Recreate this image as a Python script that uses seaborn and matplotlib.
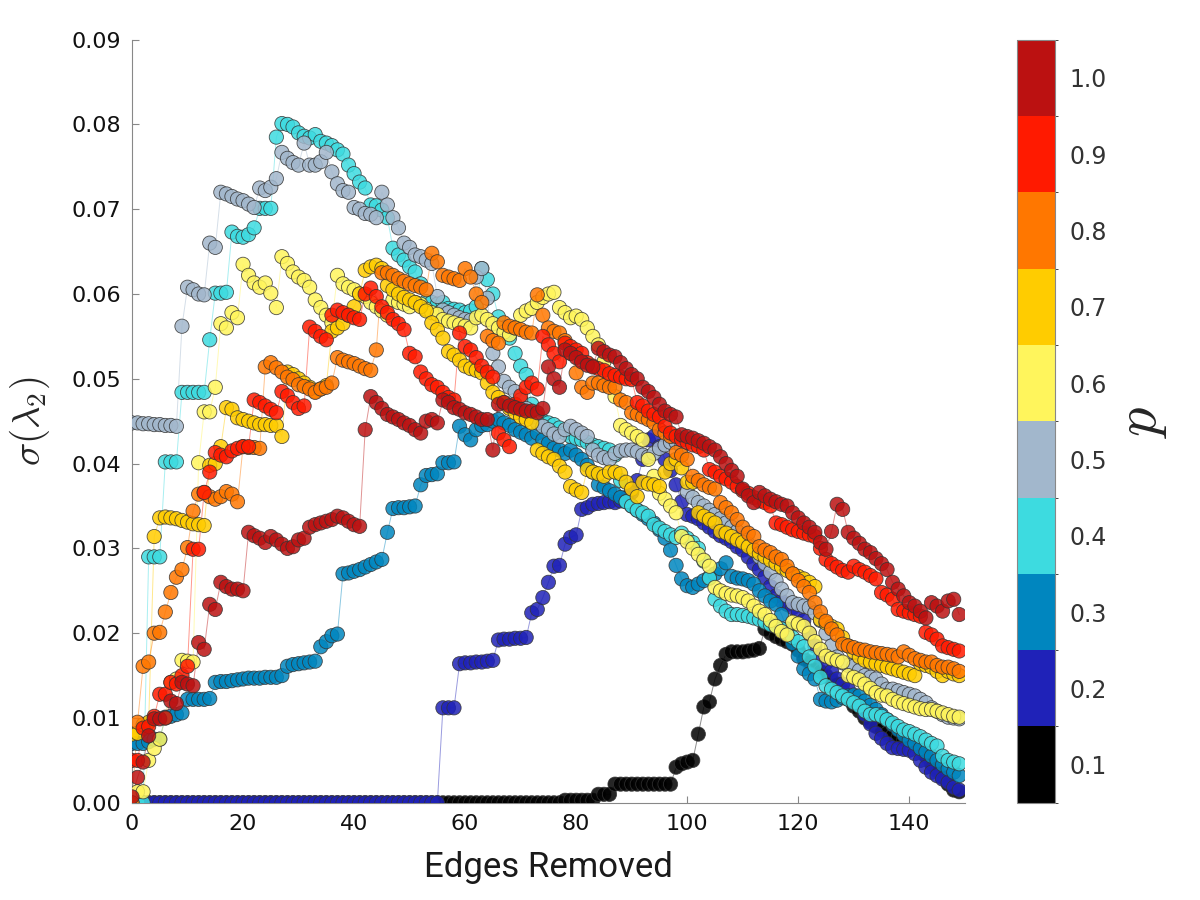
import numpy as np
import pandas as pd
import matplotlib
matplotlib.use("Agg")
import matplotlib.pyplot as plt
import seaborn as sns
from matplotlib.colors import ListedColormap, BoundaryNorm
from matplotlib.cm import ScalarMappable

# === Data: sigma(lambda_2) per edges removed, values in units of 1e-4 ===
edges = list(range(150))
p_values = [0.1, 0.2, 0.3, 0.4, 0.5, 0.6, 0.7, 0.8, 0.9, 1.0]
p_labels = ["0.1", "0.2", "0.3", "0.4", "0.5", "0.6", "0.7", "0.8", "0.9", "1.0"]
p_colors = ["#000000", "#1f22b8", "#0086bf", "#3ddbe0", "#a2b7cc",
            "#fff55c", "#ffcc00", "#ff7700", "#ff1a00", "#bb1111"]

sig_p01 = [
    0, 0, 0, 0, 0, 0, 0, 0, 0, 0,
    0, 0, 0, 0, 0, 0, 0, 0, 0, 0,
    0, 0, 0, 0, 0, 0, 0, 0, 0, 0,
    0, 0, 0, 0, 0, 0, 0, 0, 0, 0,
    0, 0, 0, 0, 0, 0, 0, 0, 0, 0,
    0, 0, 0, 0, 0, 0, 0, 0, 0, 0,
    0, 0, 0, 0, 0, 0, 0, 0, 0, 0,
    0, 0, 0, 0, 0, 0, 0, 0, 3, 3,
    3, 3, 3, 3, 10, 10, 10, 22, 22, 22,
    22, 22, 22, 22, 22, 22, 22, 22, 42, 46,
    48, 50, 81, 113, 119, 146, 162, 175, 178, 178,
    178, 179, 180, 182, 205, 200, 196, 193, 190, 187,
    180, 170, 166, 160, 155, 150, 145, 140, 132, 122,
    114, 108, 100, 95, 90, 86, 82, 79, 77, 75,
    73, 72, 64, 55, 46, 38, 30, 22, 15, 13,
]
sig_p02 = [
    0, 0, 0, 0, 0, 0, 0, 0, 0, 0,
    0, 0, 0, 0, 0, 0, 0, 0, 0, 0,
    0, 0, 0, 0, 0, 0, 0, 0, 0, 0,
    0, 0, 0, 0, 0, 0, 0, 0, 0, 0,
    0, 0, 0, 0, 0, 0, 0, 0, 0, 0,
    0, 0, 0, 0, 0, 0, 112, 112, 112, 164,
    165, 165, 166, 166, 167, 168, 192, 193, 193, 194,
    194, 195, 224, 228, 242, 260, 279, 280, 305, 313,
    316, 346, 348, 352, 353, 354, 355, 354, 356, 360,
    366, 380, 405, 428, 432, 420, 405, 392, 375, 355,
    340, 338, 335, 330, 325, 320, 315, 312, 308, 302,
    298, 290, 282, 275, 266, 255, 244, 238, 234, 230,
    226, 215, 200, 185, 172, 165, 155, 146, 140, 134,
    125, 115, 104, 93, 82, 76, 70, 65, 64, 63,
    62, 58, 50, 42, 36, 32, 28, 24, 18, 15,
]
sig_p03 = [
    70, 70, 70, 72, 75, 75, 101, 102, 104, 106,
    122, 122, 122, 122, 123, 142, 143, 143, 144, 145,
    146, 147, 147, 147, 148, 148, 148, 150, 161, 163,
    164, 165, 166, 167, 184, 190, 197, 199, 270, 271,
    273, 275, 278, 281, 284, 287, 319, 347, 348, 348,
    349, 350, 375, 386, 387, 388, 401, 401, 402, 444,
    434, 428, 440, 445, 446, 450, 452, 448, 445, 440,
    437, 434, 430, 436, 428, 424, 418, 416, 412, 416,
    410, 405, 398, 390, 375, 372, 368, 364, 360, 355,
    350, 345, 340, 335, 330, 322, 312, 298, 280, 264,
    256, 254, 258, 262, 266, 270, 276, 283, 267, 265,
    264, 262, 258, 250, 244, 238, 234, 222, 205, 188,
    173, 158, 152, 146, 122, 120, 119, 121, 124, 126,
    127, 126, 120, 115, 110, 104, 98, 92, 86, 80,
    74, 70, 64, 60, 55, 50, 45, 40, 36, 32,
]
sig_p04 = [
    0, 0, 0, 290, 290, 290, 402, 402, 402, 484,
    484, 484, 484, 484, 546, 601, 601, 602, 673, 668,
    667, 670, 678, 701, 701, 701, 785, 801, 800, 797,
    790, 786, 784, 788, 780, 778, 775, 770, 765, 752,
    742, 732, 725, 705, 704, 699, 690, 654, 646, 640,
    632, 626, 612, 591, 590, 588, 590, 583, 582, 581,
    578, 580, 585, 630, 617, 600, 573, 560, 548, 530,
    515, 505, 470, 455, 450, 448, 446, 442, 436, 432,
    430, 428, 425, 422, 420, 418, 416, 410, 380, 355,
    350, 345, 342, 338, 328, 324, 320, 316, 313, 318,
    312, 307, 300, 285, 265, 240, 232, 226, 222, 222,
    221, 220, 218, 216, 213, 210, 208, 205, 200, 195,
    190, 184, 172, 161, 148, 138, 134, 130, 126, 122,
    118, 114, 108, 104, 104, 102, 98, 94, 90, 86,
    84, 81, 78, 74, 70, 67, 55, 50, 48, 46,
]
sig_p05 = [
    448, 448, 447, 447, 446, 446, 445, 445, 444, 562,
    608, 605, 600, 599, 660, 655, 720, 718, 715, 712,
    710, 706, 702, 725, 722, 726, 736, 767, 760, 755,
    752, 778, 752, 752, 756, 767, 744, 730, 722, 720,
    702, 700, 695, 694, 690, 720, 705, 690, 678, 660,
    655, 646, 644, 640, 636, 597, 581, 578, 575, 572,
    570, 569, 620, 630, 595, 530, 514, 497, 490, 485,
    475, 465, 455, 448, 444, 440, 435, 432, 440, 444,
    440, 436, 432, 416, 410, 407, 405, 412, 415, 416,
    416, 414, 410, 408, 412, 418, 422, 425, 425, 420,
    367, 360, 354, 350, 345, 340, 335, 330, 325, 320,
    312, 305, 298, 290, 282, 272, 262, 252, 244, 236,
    234, 232, 230, 224, 215, 200, 185, 172, 165, 162,
    161, 156, 150, 148, 146, 140, 134, 134, 132, 130,
    128, 126, 122, 118, 112, 108, 104, 101, 100, 99,
]
sig_p06 = [
    0, 13, 13, 50, 64, 75, 100, 142, 146, 168,
    167, 166, 401, 461, 461, 490, 565, 560, 578, 572,
    635, 622, 613, 608, 613, 601, 584, 644, 636, 626,
    620, 616, 608, 593, 584, 575, 566, 622, 612, 608,
    605, 600, 597, 590, 585, 580, 575, 593, 590, 588,
    585, 590, 588, 582, 578, 576, 570, 568, 566, 564,
    562, 560, 572, 575, 570, 565, 560, 555, 552, 560,
    575, 580, 583, 590, 596, 600, 602, 584, 578, 572,
    574, 570, 560, 550, 540, 520, 500, 479, 445, 440,
    436, 432, 428, 405, 385, 365, 358, 350, 342, 314,
    308, 300, 293, 286, 279, 254, 250, 247, 245, 244,
    242, 238, 232, 226, 222, 215, 208, 202, 198, 213,
    211, 208, 200, 190, 181, 173, 170, 168, 166, 150,
    148, 145, 140, 135, 130, 127, 126, 122, 119, 117,
    115, 113, 111, 110, 110, 108, 106, 104, 102, 101,
]
sig_p07 = [
    81, 82, 92, 95, 314, 336, 337, 336, 335, 333,
    331, 329, 328, 327, 398, 400, 420, 466, 464, 454,
    452, 450, 448, 446, 446, 445, 445, 432, 508, 505,
    500, 495, 490, 485, 488, 492, 556, 560, 565, 575,
    585, 600, 628, 632, 634, 630, 610, 605, 600, 596,
    593, 590, 585, 580, 566, 558, 548, 532, 528, 522,
    515, 512, 510, 507, 495, 484, 478, 472, 465, 460,
    455, 452, 448, 416, 412, 408, 405, 397, 390, 373,
    369, 366, 393, 390, 388, 385, 390, 390, 388, 378,
    370, 361, 378, 376, 375, 373, 390, 400, 405, 395,
    378, 378, 342, 338, 334, 330, 320, 318, 314, 310,
    307, 302, 298, 294, 290, 286, 282, 278, 274, 270,
    267, 264, 260, 255, 216, 212, 208, 205, 195, 185,
    178, 172, 168, 166, 164, 162, 160, 158, 156, 154,
    152, 150, 164, 162, 160, 155, 150, 155, 152, 150,
]
sig_p08 = [
    0, 95, 161, 166, 200, 201, 225, 248, 266, 275,
    301, 344, 364, 366, 361, 358, 361, 367, 364, 355,
    420, 419, 419, 418, 514, 519, 513, 508, 502, 499,
    493, 491, 488, 484, 488, 490, 495, 525, 522, 520,
    518, 515, 512, 510, 534, 625, 625, 622, 618, 615,
    612, 610, 608, 605, 648, 638, 622, 620, 618, 616,
    630, 620, 600, 590, 550, 545, 542, 566, 562, 560,
    558, 555, 554, 599, 575, 560, 556, 554, 545, 530,
    507, 490, 484, 495, 495, 492, 490, 490, 475, 472,
    460, 458, 455, 452, 448, 440, 436, 432, 413, 410,
    405, 385, 380, 375, 372, 370, 354, 348, 342, 334,
    325, 318, 314, 302, 298, 295, 290, 287, 279, 270,
    262, 255, 248, 236, 225, 214, 205, 198, 187, 185,
    183, 181, 180, 178, 177, 176, 175, 174, 172, 178,
    174, 170, 168, 166, 166, 162, 160, 160, 158, 155,
]
sig_p09 = [
    50, 50, 88, 90, 102, 128, 128, 142, 140, 150,
    161, 299, 299, 366, 390, 413, 410, 408, 415, 418,
    420, 420, 475, 472, 468, 464, 460, 485, 480, 472,
    465, 468, 561, 556, 550, 546, 575, 581, 578, 575,
    572, 570, 600, 607, 597, 585, 578, 570, 565, 558,
    530, 526, 508, 500, 493, 490, 484, 478, 475, 554,
    538, 534, 525, 515, 508, 502, 436, 428, 420, 470,
    480, 490, 495, 488, 550, 540, 530, 520, 542, 538,
    534, 530, 519, 515, 512, 510, 506, 504, 502, 500,
    499, 472, 468, 462, 458, 455, 444, 436, 432, 428,
    425, 422, 420, 416, 393, 390, 385, 382, 378, 373,
    368, 365, 360, 356, 354, 350, 330, 328, 325, 322,
    320, 318, 316, 314, 300, 287, 282, 278, 274, 272,
    279, 275, 272, 268, 264, 248, 245, 240, 228, 226,
    224, 222, 220, 201, 198, 193, 185, 183, 181, 179,
]
sig_p10 = [
    7, 30, 48, 79, 99, 99, 100, 120, 117, 142,
    140, 138, 189, 181, 234, 228, 260, 255, 252, 252,
    250, 319, 315, 312, 307, 314, 310, 305, 300, 302,
    310, 312, 325, 328, 330, 332, 334, 338, 336, 332,
    328, 326, 440, 479, 472, 465, 458, 455, 452, 448,
    445, 440, 436, 450, 452, 448, 475, 472, 466, 464,
    460, 458, 455, 452, 452, 416, 470, 472, 468, 466,
    464, 462, 462, 460, 465, 514, 500, 490, 534, 530,
    525, 520, 516, 514, 536, 532, 528, 526, 519, 512,
    505, 500, 490, 485, 478, 470, 462, 458, 455, 434,
    432, 430, 427, 424, 420, 416, 408, 400, 392, 385,
    370, 362, 354, 366, 362, 358, 355, 352, 350, 342,
    336, 330, 325, 319, 307, 299, 320, 352, 346, 319,
    312, 306, 299, 295, 288, 282, 275, 260, 252, 244,
    236, 232, 226, 218, 236, 232, 226, 238, 240, 222,
]

series = [sig_p01, sig_p02, sig_p03, sig_p04, sig_p05,
          sig_p06, sig_p07, sig_p08, sig_p09, sig_p10]

# === Long-form table ===
frames = []
for lab, vals in zip(p_labels, series):
    frames.append(pd.DataFrame({"edges": edges,
                                "sigma": np.array(vals) / 1e4,
                                "p": lab}))
df = pd.concat(frames, ignore_index=True)
palette = dict(zip(p_labels, p_colors))

# === Plot ===
sns.set_style("ticks")
plt.rcParams["mathtext.fontset"] = "cm"
plt.rcParams["font.family"] = ["DejaVu Sans"]

fig = plt.figure(figsize=(12, 9), dpi=100)
ax = fig.add_axes([0.11, 0.108, 0.694, 0.848])

for lab in p_labels:
    sub = df[df["p"] == lab]
    sns.lineplot(data=sub, x="edges", y="sigma", color=palette[lab],
                 lw=0.7, alpha=0.45, ax=ax, legend=False)

sns.scatterplot(data=df, x="edges", y="sigma", hue="p", hue_order=p_labels,
                palette=palette, s=105, edgecolor="#333333", linewidth=0.6,
                alpha=0.85, legend=False, ax=ax, zorder=3)

ax.set_xlim(0, 150)
ax.set_ylim(0, 0.09)
ax.set_xticks(np.arange(0, 141, 20))
ax.set_yticks(np.arange(0, 0.0901, 0.01))
ax.set_yticklabels([f"{v:.2f}" for v in np.arange(0, 0.0901, 0.01)])
sns.despine(ax=ax, top=True, right=True)
for s in ["left", "bottom"]:
    ax.spines[s].set_color("#888888")
ax.tick_params(direction="in", length=5, color="#888888",
               labelsize=16, labelcolor="#111111", pad=8)

ax.set_xlabel("Edges Removed", fontsize=25, color="#1a1a1a",
              family=["Roboto", "DejaVu Sans"], labelpad=12)
ax.set_ylabel(r"$\sigma(\lambda_2)$", fontsize=28, labelpad=14)

# === Colorbar ===
cax = fig.add_axes([0.8475, 0.108, 0.032, 0.848])
cmap = ListedColormap(p_colors)
norm = BoundaryNorm(np.linspace(0.05, 1.05, 11), cmap.N)
cb = fig.colorbar(ScalarMappable(norm=norm, cmap=cmap), cax=cax, ticks=p_values)
cb.ax.set_yticklabels(p_labels)
cb.ax.tick_params(direction="in", length=6, color="#333333",
                  labelsize=17, labelcolor="#333333", pad=10)
cb.outline.set_edgecolor("#888888")
cb.set_label(r"$p$", fontsize=42, labelpad=4)

fig.savefig("out.png", dpi=100)
plt.close(fig)
